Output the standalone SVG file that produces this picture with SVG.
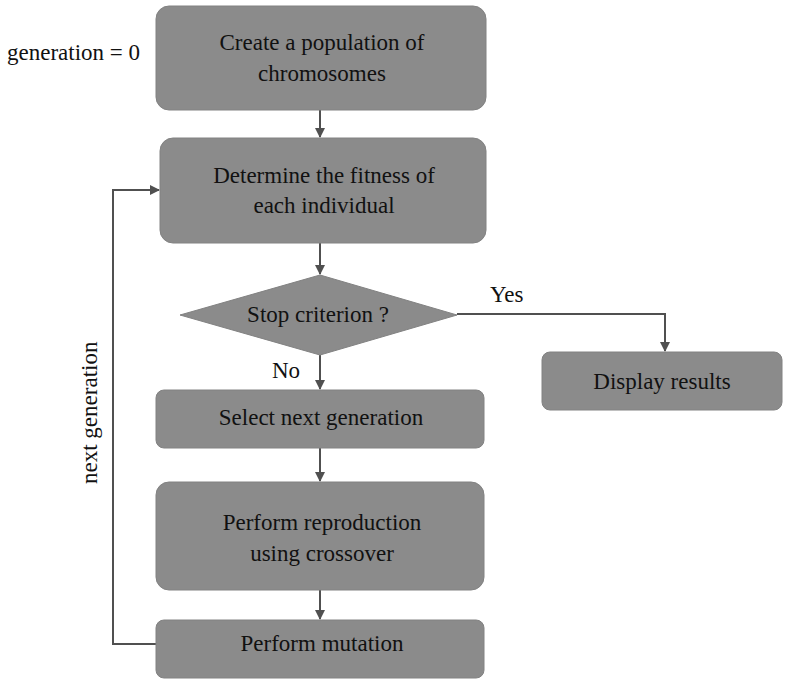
<svg xmlns="http://www.w3.org/2000/svg" width="786" height="679" viewBox="0 0 786 679">
<style>
.box{fill:#8b8b8b;stroke:#828282;stroke-width:1}
.t{font-family:'Liberation Serif','DejaVu Serif',serif;font-size:23px;fill:#111;text-anchor:middle}
.l{font-family:'Liberation Serif','DejaVu Serif',serif;font-size:23px;fill:#111}
.c{fill:none;stroke:#505050;stroke-width:2}
</style>
<defs>
<marker id="ah" markerWidth="10" markerHeight="10" refX="9" refY="5" orient="auto" markerUnits="userSpaceOnUse">
<path d="M0,0 L10,5 L0,10 z" fill="#505050"/>
</marker>
</defs>
<rect width="786" height="679" fill="#fff"/>
<text class="l" x="7" y="60">generation = 0</text>
<g id="connectors">
<line class="c" x1="320" y1="110" x2="320" y2="137" marker-end="url(#ah)"/>
<line class="c" x1="320" y1="243" x2="320" y2="274" marker-end="url(#ah)"/>
<line class="c" x1="320" y1="355" x2="320" y2="389" marker-end="url(#ah)"/>
<polyline class="c" points="457,314 665,314 665,351" marker-end="url(#ah)"/>
<line class="c" x1="320" y1="448" x2="320" y2="481" marker-end="url(#ah)"/>
<line class="c" x1="320" y1="590" x2="320" y2="619" marker-end="url(#ah)"/>
<polyline class="c" points="156,644 113,644 113,190 159,190" marker-end="url(#ah)"/>
</g>
<text class="l" x="490" y="302">Yes</text>
<text class="l" x="272" y="378">No</text>
<text class="l" transform="translate(97,484) rotate(-90)">next generation</text>
<g id="create">
<rect class="box" x="156" y="6" width="330" height="104" rx="13"/>
<text class="t" x="322" y="50">Create a  population of</text>
<text class="t" x="322" y="81">chromosomes</text>
</g>
<g id="fitness">
<rect class="box" x="160" y="138" width="326" height="105" rx="13"/>
<text class="t" x="324" y="183">Determine the fitness of</text>
<text class="t" x="324" y="213">each individual</text>
</g>
<g id="stop">
<polygon class="box" points="180,315 320,275 457,315 320,355"/>
<text class="t" x="318" y="322">Stop criterion ?</text>
</g>
<g id="display">
<rect class="box" x="542" y="352" width="240" height="58" rx="8"/>
<text class="t" x="662" y="389">Display results</text>
</g>
<g id="select">
<rect class="box" x="156" y="390" width="328" height="58" rx="8"/>
<text class="t" x="321" y="425">Select next generation</text>
</g>
<g id="reproduction">
<rect class="box" x="156" y="482" width="328" height="108" rx="13"/>
<text class="t" x="322" y="530">Perform reproduction</text>
<text class="t" x="322" y="561">using crossover</text>
</g>
<g id="mutation">
<rect class="box" x="156" y="620" width="328" height="58" rx="8"/>
<text class="t" x="322" y="651">Perform mutation</text>
</g>
</svg>
